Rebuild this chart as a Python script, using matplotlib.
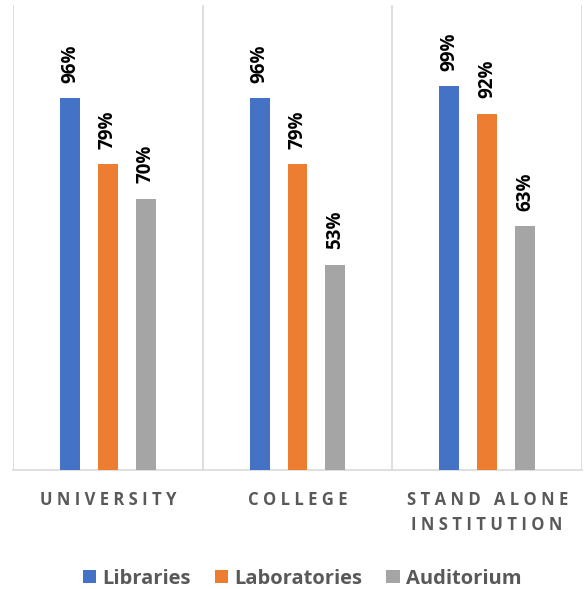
import matplotlib.pyplot as plt
import numpy as np

categories = ["UNIVERSITY", "COLLEGE", "STAND ALONE\nINSTITUTION"]
series = ["Libraries", "Laboratories", "Auditorium"]
libraries = [96, 96, 99]
laboratories = [79, 79, 92]
auditorium = [70, 53, 63]
colors = ["#4472C4", "#ED7D31", "#A5A5A5"]

plt.rcParams['font.family'] = ['Open Sans', 'DejaVu Sans']

fig = plt.figure(figsize=(5.87, 5.89), dpi=100)
ax = fig.add_axes([0.0221, 0.202, 0.9694, 0.7895])

x = np.arange(len(categories))
width = 0.105
offsets = [-0.2, 0.0, 0.2]

for vals, name, col, off in zip([libraries, laboratories, auditorium], series, colors, offsets):
    bars = ax.bar(x + off, vals, width, color=col, label=name, zorder=3)
    for b, v in zip(bars, vals):
        ax.annotate(f"{v}%", (b.get_x() + b.get_width() / 2, v),
                    xytext=(0, 11), textcoords="offset points",
                    rotation=90, ha="center", va="bottom",
                    fontsize=13.5, fontweight="bold", color="black")

ax.set_xlim(-0.5, 2.5)
ax.set_ylim(0, 120)
ax.set_yticks([])
ax.set_xticks([])

# vertical separators between groups
for xv in [-0.5, 0.5, 1.5, 2.5]:
    ax.axvline(xv, color="#D9D9D9", lw=1.2, zorder=1)

for s in ["top", "left", "right"]:
    ax.spines[s].set_visible(False)
ax.spines["bottom"].set_color("#D9D9D9")
ax.spines["bottom"].set_linewidth(1.2)

# spaced-out category labels
for xi, cat in zip(x, categories):
    spaced = "\n".join(" ".join(line) for line in cat.split("\n"))
    ax.text(xi, -5.3, spaced, ha="center", va="top", fontsize=12,
            fontweight="bold", color="#595959", linespacing=1.5,
            transform=ax.transData)

leg = fig.legend(loc="lower center", bbox_to_anchor=(0.515, -0.03), ncol=3,
                 frameon=False, fontsize=14.5, handlelength=0.65, handleheight=0.65,
                 handletextpad=0.3, columnspacing=1.2)
for t in leg.get_texts():
    t.set_color("#595959")
    t.set_fontweight("bold")

fig.savefig("out.png", dpi=100)
